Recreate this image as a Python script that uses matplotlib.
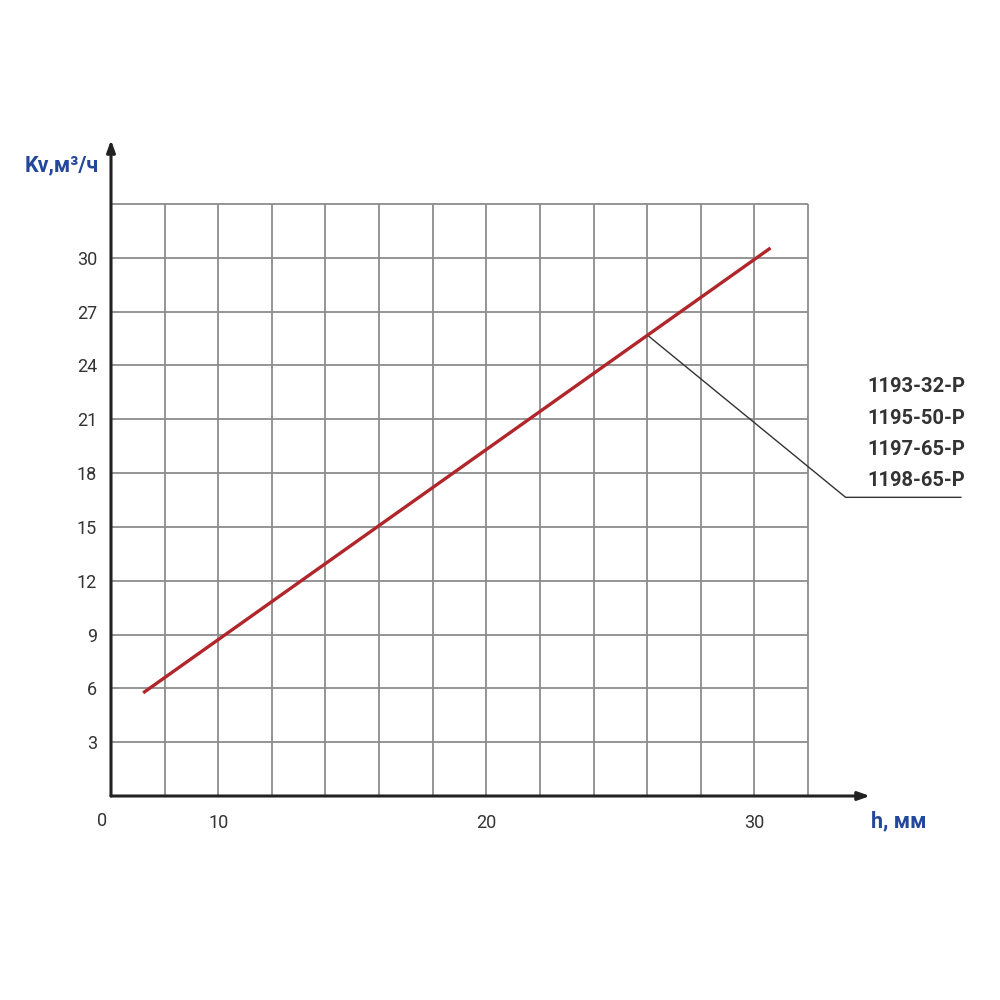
import matplotlib.pyplot as plt

plt.rcParams['font.family'] = ['Roboto', 'DejaVu Sans']

# data
h_line = [7.2, 30.6]
kv_line = [5.75, 30.55]
x_grid = [8, 10, 12, 14, 16, 18, 20, 22, 24, 26, 28, 30, 32]
y_grid = [3, 6, 9, 12, 15, 18, 21, 24, 27, 30, 33]
x_ticks = [10, 20, 30]
y_ticks = [3, 6, 9, 12, 15, 18, 21, 24, 27, 30]
models = ["1193-32-P", "1195-50-P", "1197-65-P", "1198-65-P"]
callout_x = [26, 33.4, 37.7]
callout_y = [25.7, 16.65, 16.65]

blue = "#23479a"
grid_c = "#8c8c8c"

fig = plt.figure(figsize=(10, 10), dpi=100)
ax = fig.add_axes([0.111, 0.204, 0.759, 0.656])
ax.set_xlim(6, 34.31)
ax.set_ylim(0, 36.57)
for s in ax.spines.values():
    s.set_visible(False)

# grid
ax.vlines(x_grid, 0, 33, color=grid_c, lw=1.3, zorder=1)
ax.hlines(y_grid, 6, 32, color=grid_c, lw=1.3, zorder=1)

# axes with arrows
ax.annotate("", xy=(34.31, 0), xytext=(6, 0),
            arrowprops=dict(arrowstyle="-|>,head_length=0.7,head_width=0.25",
                            color="#222222", lw=2.2, shrinkA=0, shrinkB=0))
ax.annotate("", xy=(6, 36.57), xytext=(6, 0),
            arrowprops=dict(arrowstyle="-|>,head_length=0.7,head_width=0.25",
                            color="#222222", lw=2.2, shrinkA=0, shrinkB=0))

# characteristic line
ax.plot(h_line, kv_line, color="#b0262a", lw=2.4, solid_capstyle="butt", zorder=3)

# callout
ax.plot(callout_x, callout_y, color="#333333", lw=1.0, clip_on=False, zorder=2)
for i, m in enumerate(models):
    fig.text(0.867, 1 - (0.387 + i * 0.031), m, ha="left", va="center",
             fontsize=14.5, fontweight="bold", color="#333333")

# ticks
ax.set_xticks(x_ticks)
ax.set_yticks(y_ticks)
ax.tick_params(length=0, labelsize=13, colors="#333333")
ax.tick_params(axis="y", pad=10)
ax.tick_params(axis="x", pad=13)
ax.text(5.65, -0.9, "0", ha="center", va="top", fontsize=13, color="#333333")

# axis labels
fig.text(0.062, 1 - 0.165, "Kv,м³/ч", ha="center", va="center",
         fontsize=15.5, fontweight="bold", color=blue)
fig.text(0.899, 1 - 0.821, "h, мм", ha="center", va="center",
         fontsize=15.5, fontweight="bold", color=blue)

fig.savefig("out.png", dpi=100, facecolor="white")
